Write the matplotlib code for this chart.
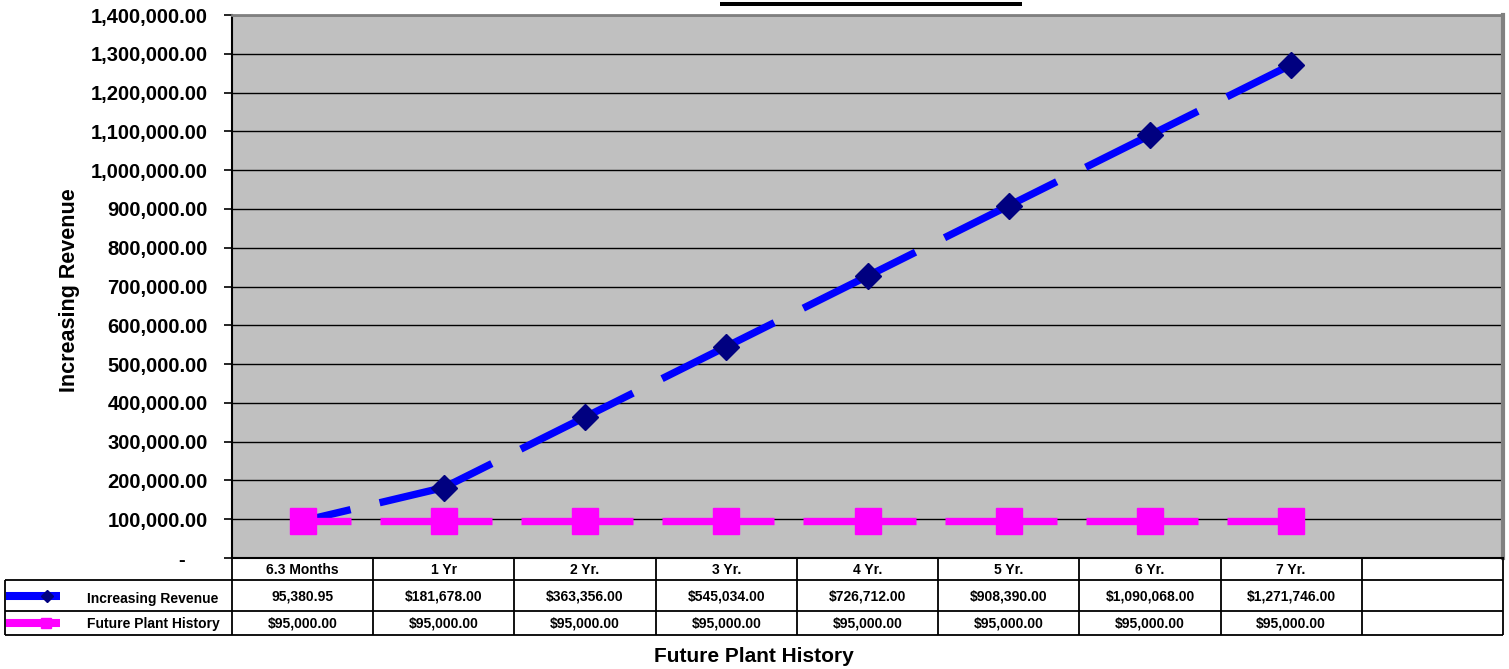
import matplotlib
matplotlib.use("Agg")
import math
import matplotlib.pyplot as plt
from matplotlib.ticker import FuncFormatter, MultipleLocator
from matplotlib.transforms import blended_transform_factory
from matplotlib.lines import Line2D
from matplotlib.patches import Rectangle

# ---- data ----
periods = ["6.3 Months", "1 Yr", "2 Yr.", "3 Yr.", "4 Yr.", "5 Yr.", "6 Yr.", "7 Yr."]
increasing_revenue = [95380.95, 181678.00, 363356.00, 545034.00,
                      726712.00, 908390.00, 1090068.00, 1271746.00]
future_plant = [95000.00] * 8
series_names = ["Increasing Revenue", "Future Plant History"]
revenue_fmt = ["{:,.2f}"] + ["${:,.2f}"] * 7
plant_fmt = ["${:,.2f}"] * 8

W, H = 1509, 669
FONT = ["Liberation Sans", "DejaVu Sans"]
plt.rcParams["font.family"] = FONT
plt.rcParams["font.weight"] = "bold"

fig = plt.figure(figsize=(W / 100, H / 100), dpi=100)
fig.patch.set_facecolor("white")

# pixel-space overlay for table and decorations
ov = fig.add_axes([0, 0, 1, 1], zorder=5)
ov.set_xlim(0, W)
ov.set_ylim(H, 0)
ov.axis("off")
ov.patch.set_alpha(0)

left, right, top, bottom = 232, 1503, 15, 558
ax = fig.add_axes([left / W, 1 - bottom / H, (right - left) / W, (bottom - top) / H], zorder=2)
ax.set_facecolor("#C0C0C0")

x = list(range(len(periods)))
ax.set_xlim(-0.5, len(periods) + 0.5)
ax.set_ylim(0, 1400000)
ax.yaxis.set_major_locator(MultipleLocator(100000))
# accounting style: zero shown as a dash, padded away from the axis
ax.yaxis.set_major_formatter(FuncFormatter(lambda v, p: "-    " if abs(v) < 1 else f"{v:,.2f}"))
ax.set_xticks([])
ax.tick_params(axis="y", direction="out", length=6, width=1.2, pad=11.5, labelsize=14.5,
               colors="black")
for lab in ax.get_yticklabels():
    lab.set_fontweight("bold")
ax.grid(axis="y", color="black", linewidth=1.0, zorder=1)
ax.set_axisbelow(True)

for s in ("left", "bottom"):
    ax.spines[s].set_color("black")
    ax.spines[s].set_linewidth(1.5)
ax.spines["top"].set_color("#808080")
ax.spines["top"].set_linewidth(2.0)
ax.spines["right"].set_color("#808080")
ax.spines["right"].set_linewidth(3.0)

LW = 5.3                      # line width in points
lw_px = LW * 100 / 72
DASH_ON, DASH_OFF, FIRST_ON = 112.0, 29.0, 48.0   # horizontal pixel lengths


def dashed_series(xs, ys, color):
    """Draw a polyline whose dash rhythm repeats once per category step."""
    for i in range(len(xs) - 1):
        (x0, y0), (x1, y1) = ax.transData.transform([(xs[i], ys[i]), (xs[i + 1], ys[i + 1])])
        stretch = math.hypot(x1 - x0, y1 - y0) / max(abs(x1 - x0), 1e-9)
        on = DASH_ON * stretch / lw_px
        off = DASH_OFF * stretch / lw_px
        offset = (DASH_ON - FIRST_ON) * stretch / lw_px
        ax.plot([xs[i], xs[i + 1]], [ys[i], ys[i + 1]], color=color, linewidth=LW,
                linestyle=(offset, (on, off)), dash_capstyle="butt", zorder=3, clip_on=False)


dashed_series(x, increasing_revenue, "#0000FF")
dashed_series(x, future_plant, "#FF00FF")
ax.plot(x, increasing_revenue, linestyle="none", marker="D", markersize=13.5,
        markerfacecolor="#000080", markeredgecolor="#000080", zorder=4, clip_on=False)
ax.plot(x, future_plant, linestyle="none", marker="s", markersize=18.5,
        markerfacecolor="#FF00FF", markeredgecolor="#FF00FF", zorder=4, clip_on=False)

# ---- data table below the plot ----
tr = blended_transform_factory(ax.transData, ov.transData)
y_head, y_r1, y_r2, y_end = 558, 580, 611, 635
lk = dict(color="black", linewidth=1.3, solid_capstyle="butt")
edges = [i - 0.5 for i in range(len(periods) + 2)]
for e in edges:
    ov.add_line(Line2D([e, e], [y_head, y_end], transform=tr, **lk))
for yy in (y_r1, y_r2, y_end):
    ov.add_line(Line2D([5, left], [yy, yy], **lk))
    ov.add_line(Line2D([edges[0], edges[-1]], [yy, yy], transform=tr, **lk))
ov.add_line(Line2D([5, 5], [y_r1, y_end], **lk))

fs = 10
for i, name in enumerate(periods):
    ov.text(i, (y_head + y_r1) / 2 + 1, name, transform=tr, ha="center", va="center",
            fontsize=fs, fontweight="bold")
    ov.text(i, (y_r1 + y_r2) / 2 + 1, revenue_fmt[i].format(increasing_revenue[i]),
            transform=tr, ha="center", va="center", fontsize=fs, fontweight="bold")
    ov.text(i, (y_r2 + y_end) / 2 + 1, plant_fmt[i].format(future_plant[i]),
            transform=tr, ha="center", va="center", fontsize=fs, fontweight="bold")

# row headers with legend keys
ov.text(153, (y_r1 + y_r2) / 2 + 3, series_names[0], ha="center", va="center",
        fontsize=fs, fontweight="bold")
ov.text(153, (y_r2 + y_end) / 2 + 1, series_names[1], ha="center", va="center",
        fontsize=fs, fontweight="bold")
ov.add_line(Line2D([6, 60], [596, 596], color="#0000FF", linewidth=5.8, solid_capstyle="butt"))
ov.plot([47], [596], marker="D", markersize=6.5, color="#000080")
ov.add_line(Line2D([6, 60], [623, 623], color="#FF00FF", linewidth=5.8, solid_capstyle="butt"))
ov.plot([46], [623], marker="s", markersize=7.5, color="#FF00FF")

# axis titles
fig.text(69 / W, 1 - 290 / H, "Increasing Revenue", rotation=90, ha="center", va="center",
         fontsize=15.5, fontweight="bold")
fig.text(754 / W, 1 - 656 / H, "Future Plant History", ha="center", va="center",
         fontsize=15, fontweight="bold")

# title underline at the top edge
ov.add_patch(Rectangle((720, 2), 302, 3.5, color="black", linewidth=0))

fig.savefig("out.png", dpi=100)
